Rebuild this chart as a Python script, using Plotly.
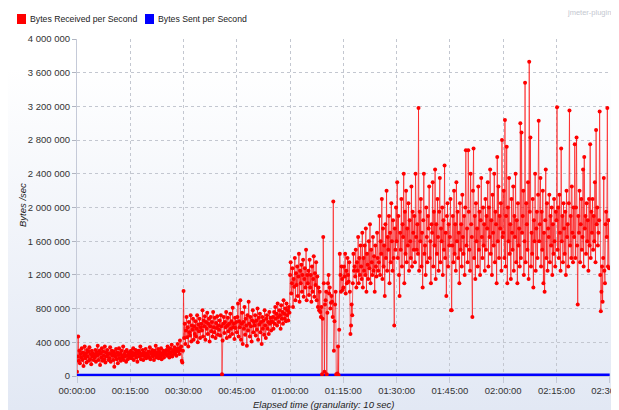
import base64
import pandas as pd
import plotly.graph_objects as go

# ---------------- data (bytes/sec, in thousands, one value per 10 s) ----------------
received_k_blocks = [
    [50,230,470,180,300,150,260,220,330,190,280,120,240,350,210,270,160,310,230,290,180,340,200,260,140,300,230,270,190,250],
    [220,310,170,280,240,360,190,260,300,130,270,220,330,180,290,240,200,350,160,280,230,310,250,190,270,210,340,170,260,300],
    [240,190,290,110,260,230,320,200,280,150,250,330,210,270,180,300,240,220,350,190,260,230,290,170,310,240,200,280,250,220],
    [260,300,210,280,240,330,190,270,250,310,220,290,170,260,300,230,280,350,200,260,240,310,190,280,250,230,320,210,270,240],
    [250,290,220,340,200,280,260,310,230,270,190,300,250,360,220,280,240,320,210,290,260,230,330,200,270,250,300,220,280,260],
    [270,310,240,350,260,300,220,330,280,250,370,230,310,290,260,340,280,320,240,300,380,290,330,260,420,310,350,180,160,300],
    [1010,450,620,380,540,700,460,580,350,640,520,480,720,410,600,550,680,430,590,500,650,470,560,720,400,610,530,680,450,580],
    [620,540,780,470,660,590,710,430,640,560,750,500,620,680,410,590,700,530,640,470,760,580,520,690,450,630,570,710,490,600],
    [550,660,480,720,590,20,420,620,700,510,640,580,760,450,600,690,530,620,470,740,560,650,500,810,580,620,440,690,570,640],
    [520,700,860,470,650,580,900,430,620,750,380,640,560,820,490,680,600,360,720,540,880,620,470,700,590,410,660,780,520,640],
    [600,720,480,660,550,800,430,690,610,740,520,640,380,700,560,660,490,780,600,450,680,720,560,640,500,760,620,690,540,650],
    [640,700,560,760,620,820,680,740,600,860,700,640,780,720,560,840,680,760,620,900,740,680,800,650,860,720,780,660,820,750],
    [1200,1350,980,1100,1280,820,1150,1060,1400,900,1220,1080,1300,950,1180,1450,880,1250,1100,1320,1000,1200,1380,940,1150,1280,1050,1500,900,1200],
    [1100,1250,960,1380,1050,1200,880,1300,1000,1150,1420,940,1220,1080,1350,900,1180,820,1050,780,1000,760,700,820,20,680,1650,1100,50,850],
    [900,1000,20,750,1100,1200,980,1050,800,870,950,880,700,2070,300,650,850,1000,20,10,30,350,10,550,1450,1200,1000,1300,1150,1020],
    [1050,1300,1180,1450,980,1250,1100,1400,1200,1120,1350,1000,500,600,850,720,1100,1450,1250,1300,1180,1500,1050,1350,1250,1650,1100,1400,1200,1550],
    [1300,1150,1700,1050,1400,1250,1550,1200,1750,1000,1450,1320,1150,1600,1280,1800,1100,1500,1350,1200,1650,1250,1420,1000,1550,1300,1180,1700,1400,1250],
    [1350,1900,1200,1600,1450,2100,1150,1750,1300,1550,950,1800,1400,2200,1250,1650,1500,1900,1100,1700,1350,2050,1600,1250,1850,1400,600,1750,1500,2000],
    [1600,2300,1400,1900,1200,950,1700,1500,2100,1300,1800,1650,2400,1100,1950,1450,2200,1350,1750,1550,2050,1250,1850,1600,1400,2250,1300,1950,1700,1500],
    [1900,1350,2400,1650,1500,1800,1450,3180,1250,1950,1600,2100,1300,1700,1050,1850,2400,1450,1550,1200,2000,1650,1350,1900,1750,2250,1400,1600,1100,1800],
    [1700,2300,1300,1950,1550,2450,1150,1800,1450,2100,1650,1250,1950,2350,1350,1750,1600,2000,1200,1850,1500,2500,1400,1700,950,1900,2050,1300,1800,1550],
    [1650,2100,780,780,1550,1900,1350,2200,1450,1800,1250,2300,1600,1950,1400,1700,1100,2050,1500,1800,1300,2150,1650,1450,1900,1200,2000,2680,1550,1750],
    [1350,2680,1950,1500,1250,2400,1800,1650,700,2200,2700,1400,1900,1150,2050,1600,1750,1300,2250,1500,1950,1200,1850,2350,1650,1400,2000,1550,1800,1250],
    [2100,1500,1900,1750,2300,1300,2000,1650,2450,1450,1850,1200,2150,1700,1550,2400,1350,1950,1800,1100,2600,1600,2250,1400,1900,1750,2050,1250,2800,1650],
    [1700,2200,1400,3040,1300,1900,2720,1100,2000,1600,2350,1450,1800,1150,2100,1700,1500,2250,1250,1900,1650,2400,1350,1850,1100,2050,1550,1750,1300,3000],
    [1400,2890,1700,1900,2200,1200,1600,3480,1350,2050,1800,1500,2300,1150,3730,1950,2830,1300,1700,1450,2100,1050,1850,1600,2400,1250,1750,1950,1400,2150],
    [3030,1600,1800,2350,1300,1950,1500,2200,1100,1700,1000,1850,2450,1400,2050,1250,1750,1650,2150,1350,1900,1550,2000,1200,1800,1450,2100,1600,1300,1950],
    [1850,3190,1500,2000,1400,2150,1700,1250,2700,1600,1900,1350,2050,1750,1450,1950,1200,2200,1650,1800,1300,2050,3150,1550,1900,1400,2250,1700,1350,2000],
    [1650,2750,1400,2000,2830,1550,850,1900,1700,2200,1350,1800,2100,1500,1650,2450,1300,2600,1750,1900,1450,2050,1600,1850,1250,2100,1550,2750,1400,1950],
    [1700,2100,1500,1900,1600,2300,1350,2920,1800,2000,1550,1700,1850,3140,1200,770,1000,1300,880,1400,2350,1250,1100,1800,1950,1650,3180,1300,1850,1280],
]
# bytes sent per second (tiny compared to received), sampled every 5 minutes
sent_minutes = [0,5,10,15,20,25,30,35,40,45,50,55,60,65,70,75,80,85,90,95,100,105,110,115,120,125,130,135,140,145,150]
sent_values = [2000,2100,2000,2200,2100,2000,3500,3600,3400,3700,3600,3800,5200,5000,3000,5400,5600,5900,6800,7000,7100,7000,7300,7200,7400,7500,7300,7400,7600,7500,7400]

y_ticks = [0,400000,800000,1200000,1600000,2000000,2400000,2800000,3200000,3600000,4000000]
x_tick_minutes = [0,15,30,45,60,75,90,105,120,135,150]

# ---------------- build ----------------
received = [v * 1000 for blk in received_k_blocks for v in blk]
step_s = 10
t_recv = pd.to_datetime([i * step_s for i in range(len(received))], unit="s")
t_sent = pd.to_datetime([m * 60 for m in sent_minutes], unit="s")
t_ticks = pd.to_datetime([m * 60 for m in x_tick_minutes], unit="s")

OFF = 8  # page body margin
W, H = 619 - OFF, 410 - OFF
# plot area in reference (window) pixels
PL, PR, PT, PB = 77, 610, 39, 376
PW, PH = PR - PL, PB - PT
L, T = PL - OFF, PT - OFF
R, B = W - (PR - OFF), H - (PB - OFF)

def px(xp):
    return (xp - PL) / PW

def py(yp):
    return (PB - yp) / PH

FONT = "Liberation Sans, Arial, sans-serif"
FS = 9.5

fig = go.Figure()
fig.add_trace(go.Scatter(
    x=t_sent, y=sent_values, mode="lines",
    line=dict(color="#0000ff", width=4), showlegend=False, name="Bytes Sent per Second",
    cliponaxis=False,
))
fig.add_trace(go.Scatter(
    x=t_recv, y=received, mode="lines+markers",
    line=dict(color="rgba(255,0,0,0.6)", width=1),
    marker=dict(color="#ff0000", size=4),
    showlegend=False, name="Bytes Received per Second",
))

# gradient background
svg = ('<svg xmlns="http://www.w3.org/2000/svg" width="10" height="100" preserveAspectRatio="none">'
       '<defs><linearGradient id="g" x1="0" y1="0" x2="0" y2="1">'
       '<stop offset="0" stop-color="#ffffff"/><stop offset="0.15" stop-color="#ffffff"/>'
       '<stop offset="1" stop-color="#e2e8f4"/></linearGradient></defs>'
       '<rect width="10" height="100" fill="url(#g)"/></svg>')
uri = "data:image/svg+xml;base64," + base64.b64encode(svg.encode()).decode()
fig.add_layout_image(dict(source=uri, xref="paper", yref="paper",
                          x=px(OFF), y=py(OFF), sizex=(619 - OFF) / PW, sizey=(410 - OFF) / PH,
                          sizing="stretch", xanchor="left", yanchor="top", layer="below"))

# legend drawn manually
shapes = []
annotations = []
for x0, color, label in [(17, "#ff0000", "Bytes Received per Second"), (145, "#0000ff", "Bytes Sent per Second")]:
    shapes.append(dict(type="rect", xref="paper", yref="paper",
                       x0=px(x0), x1=px(x0 + 9), y0=py(24), y1=py(14),
                       fillcolor=color, line=dict(width=0)))
    annotations.append(dict(text=label, xref="paper", yref="paper", x=px(x0 + 11), y=py(19),
                            xanchor="left", yanchor="middle", showarrow=False,
                            font=dict(family=FONT, size=8.7, color="#222")))

annotations.append(dict(text="jmeter-plugins.org", xref="paper", yref="paper", x=px(565), y=py(12),
                        xanchor="left", yanchor="middle", showarrow=False,
                        font=dict(family=FONT, size=7.5, color="#c4c8d0")))
annotations.append(dict(text="<i>Bytes /sec</i>", xref="paper", yref="paper", x=px(22), y=py(205),
                        xanchor="center", yanchor="middle", showarrow=False, textangle=-90,
                        font=dict(family=FONT, size=FS, color="#222")))
annotations.append(dict(text="<i>Elapsed time (granularity: 10 sec)</i>", xref="paper", yref="paper",
                        x=px(324), y=py(404), xanchor="center", yanchor="middle", showarrow=False,
                        font=dict(family=FONT, size=FS, color="#222")))

fig.update_layout(
    width=W, height=H,
    margin=dict(l=L, r=R, t=T, b=B, pad=0, autoexpand=False),
    paper_bgcolor="#ffffff", plot_bgcolor="rgba(0,0,0,0)",
    separators=". ",
    font=dict(family=FONT, size=FS, color="#333"),
    showlegend=False,
    shapes=shapes, annotations=annotations,
    xaxis=dict(
        type="date", range=[pd.Timestamp(0, unit="s"), pd.Timestamp(9005, unit="s")],
        tickvals=t_ticks, tickformat="%H:%M:%S", ticklabeloverflow="allow",
        showgrid=True, gridcolor="#c3c7d0", griddash="dot", gridwidth=1,
        showline=True, linecolor="#c5cad8", linewidth=1,
        ticks="outside", ticklen=6, tickcolor="#c5cad8",
        tickfont=dict(family=FONT, size=FS, color="#333"),
        zeroline=False, fixedrange=True, automargin=False,
    ),
    yaxis=dict(
        range=[0, 4000000], tickvals=y_ticks, tickformat=",d",
        showgrid=True, gridcolor="#c3c7d0", griddash="dot", gridwidth=1,
        showline=True, linecolor="#c5cad8", linewidth=1,
        ticks="outside", ticklen=4, tickcolor="#b0b4c0",
        tickfont=dict(family=FONT, size=FS, color="#333"),
        zeroline=False, fixedrange=True, automargin=False,
    ),
)

fig.write_html("out.html")
